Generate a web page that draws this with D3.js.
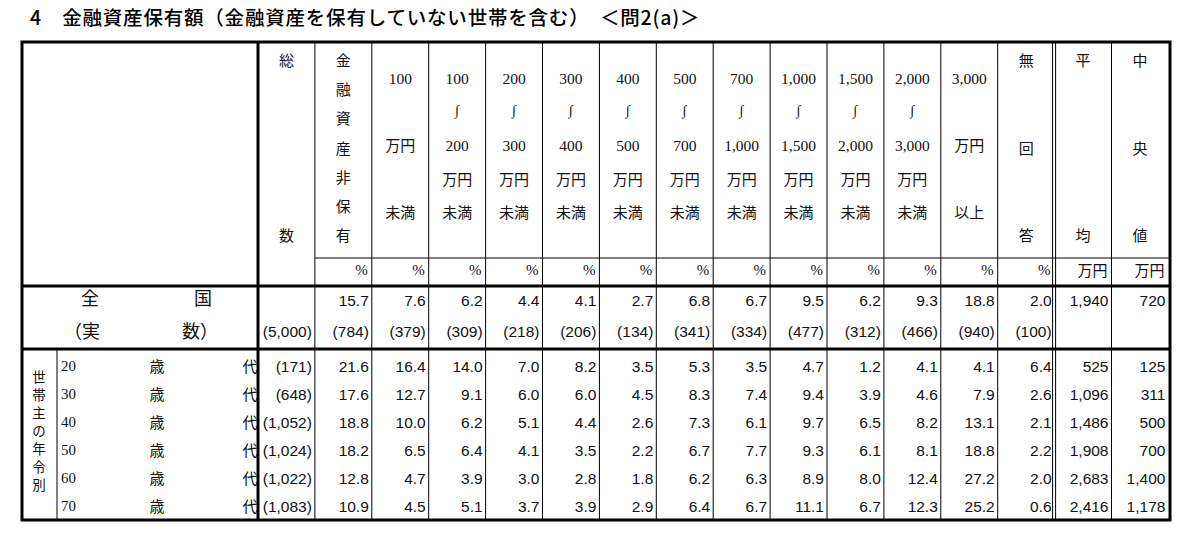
<!DOCTYPE html>
<html><head><meta charset="utf-8">
<script src="https://cdn.jsdelivr.net/npm/d3@7"></script>
<style>
body{margin:0;background:#fff}
.jp{font-family:"Noto Sans CJK JP",sans-serif}
.serif{font-family:"Liberation Serif","DejaVu Serif",serif}
.num{font-family:"Liberation Sans Narrow","Liberation Sans",Arial,sans-serif}
</style></head>
<body><svg id="c" width="1200" height="536"></svg>
<script>
const title = "4　金融資産保有額（金融資産を保有していない世帯を含む）　＜問2(a)＞";
// header cells: lines of text with relative slots
const bands = [["100","","","万円","未満"],["100","〜","200","万円","未満"],["200","〜","300","万円","未満"],["300","〜","400","万円","未満"],["400","〜","500","万円","未満"],["500","〜","700","万円","未満"],["700","〜","1,000","万円","未満"],["1,000","〜","1,500","万円","未満"],["1,500","〜","2,000","万円","未満"],["2,000","〜","3,000","万円","未満"],["3,000","","","万円","以上"]];
const units = ["%","%","%","%","%","%","%","%","%","%","%","%","%","万円","万円"];
const nationalPct = ["15.7","7.6","6.2","4.4","4.1","2.7","6.8","6.7","9.5","6.2","9.3","18.8","2.0","1,940","720"];
const nationalN = ["(5,000)","(784)","(379)","(309)","(218)","(206)","(134)","(341)","(334)","(477)","(312)","(466)","(940)","(100)"];
const ages = ["20","30","40","50","60","70"];
const ageN = ["(171)","(648)","(1,052)","(1,024)","(1,022)","(1,083)"];
const ageVals = [
  ["21.6","16.4","14.0","7.0","8.2","3.5","5.3","3.5","4.7","1.2","4.1","4.1","6.4","525","125"],
  ["17.6","12.7","9.1","6.0","6.0","4.5","8.3","7.4","9.4","3.9","4.6","7.9","2.6","1,096","311"],
  ["18.8","10.0","6.2","5.1","4.4","2.6","7.3","6.1","9.7","6.5","8.2","13.1","2.1","1,486","500"],
  ["18.2","6.5","6.4","4.1","3.5","2.2","6.7","7.7","9.3","6.1","8.1","18.8","2.2","1,908","700"],
  ["12.8","4.7","3.9","3.0","2.8","1.8","6.2","6.3","8.9","8.0","12.4","27.2","2.0","2,683","1,400"],
  ["10.9","4.5","5.1","3.7","3.9","2.9","6.4","6.7","11.1","6.7","12.3","25.2","0.6","2,416","1,178"]
];

const svg = d3.select("#c");
const L = 22, R = 1170, T = 42, B = 520;
// column i (0 = 総数) left edge
const x = d3.scaleLinear().domain([0, 16]).range([258, 258 + 16 * 56.9]);
const rowY = d3.scalePoint().domain(ages).range([368, 508]);
const hdrY = d3.scaleLinear().domain([0, 4]).range([80, 214]);
const vertY = d3.scaleLinear().domain([0, 6]).range([62, 237]);

svg.append("text").attr("class", "jp").attr("x", 30).attr("y", 25)
  .attr("font-size", 19.5).attr("font-weight", 500).attr("letter-spacing", 0.8)
  .attr("xml:space", "preserve").text(title);

const g = svg.append("g");
function line(x1, y1, x2, y2, w) {
  g.append("line").attr("x1", x1).attr("y1", y1).attr("x2", x2).attr("y2", y2)
    .attr("stroke", "#000").attr("stroke-width", w);
}
// horizontal lines
line(x(1), 258, R, 258, 1);
line(L, 286, R, 286, 3);
line(L, 349, R, 349, 3);
// verticals
for (let i = 1; i < 16; i++) {
  if (i === 14) { line(x(i) - 2, T, x(i) - 2, B, 1); line(x(i) + 1, T, x(i) + 1, B, 1); }
  else line(x(i), T, x(i), B, 1);
}
line(x(0), T, x(0), B, 3);
line(57, 349, 57, B, 1);
g.append("rect").attr("x", L).attr("y", T).attr("width", R - L).attr("height", B - T)
  .attr("fill", "none").attr("stroke", "#000").attr("stroke-width", 3);

const cx = i => (x(i) + x(i + 1)) / 2;
function t(txt, xx, yy, cls, size, anchor) {
  svg.append("text").attr("class", cls).attr("x", xx).attr("y", yy)
    .attr("font-size", size).attr("text-anchor", anchor || "middle")
    .attr("dominant-baseline", "middle").attr("fill", "#111").text(txt);
}
// vertical headers
function vert(i, chars, slots) {
  chars.forEach((c, k) => t(c, cx(i), vertY(slots[k]), "jp", 15));
}
vert(0, ["総", "数"], [0, 6]);
vert(1, ["金", "融", "資", "産", "非", "保", "有"], [0, 1, 2, 3, 4, 5, 6]);
vert(13, ["無", "回", "答"], [0, 3, 6]);
vert(14, ["平", "均"], [0, 6]);
vert(15, ["中", "央", "値"], [0, 3, 6]);
bands.forEach((b, k) => {
  const i = k + 2;
  const lines = b[1] === "" ? [[b[0], 0], [b[3], 2], [b[4], 4]] : b.map((s, j) => [s, j]);
  lines.forEach(([s, j]) => {
    if (s === "〜") t("∫", cx(i), hdrY(j) - 2, "serif", 14);
    else t(s, cx(i), hdrY(j), /\d/.test(s) ? "serif" : "jp", /\d/.test(s) ? 15.5 : 15);
  });
});
units.forEach((u, k) => t(u, x(k + 2) - 4, 272, u === "%" ? "serif" : "jp", 15, "end"));

// national rows
t("全", 90, 300, "jp", 18); t("国", 203, 300, "jp", 18);
t("（実", 82, 333, "jp", 18); t("数）", 200, 333, "jp", 18);
nationalPct.forEach((v, k) => t(v, x(k + 2) - 3, 302, "num", 15.5, "end"));
nationalN.forEach((v, k) => t(v, x(k + 1) - 3, 333, "num", 15.5, "end"));

// age rows
["世", "帯", "主", "の", "年", "令", "別"].forEach((c, k) =>
  t(c, 39, d3.scaleLinear().domain([0, 6]).range([378, 486])(k), "jp", 13.5));
ages.forEach((a, r) => {
  const yy = rowY(a);
  t(a, 61, yy, "serif", 15, "start");
  t("歳", 157, yy, "jp", 15);
  t("代", 250, yy, "jp", 15);
  t(ageN[r], x(1) - 3, yy, "num", 15.5, "end");
  ageVals[r].forEach((v, k) => t(v, x(k + 2) - 3, yy, "num", 15.5, "end"));
});
</script></body></html>
